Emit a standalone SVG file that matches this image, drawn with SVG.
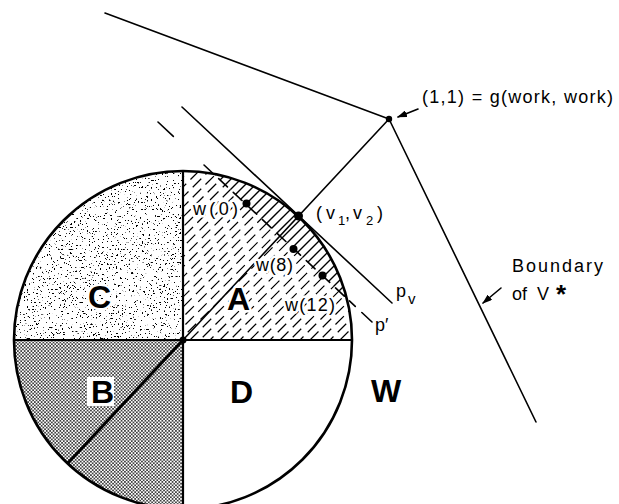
<svg xmlns="http://www.w3.org/2000/svg" xmlns:xlink="http://www.w3.org/1999/xlink" width="619" height="504" viewBox="0 0 619 504">
<style>
.ln{stroke:#000;stroke-width:1.6;fill:none;stroke-linecap:round}
.thick{stroke:#000;stroke-width:2.2;fill:none}
.lab{font-family:"Liberation Sans",Arial,sans-serif;font-size:18px;fill:#000}
.big{font-family:"Liberation Sans",Arial,sans-serif;font-size:32px;font-weight:bold;fill:#000}
.halo{paint-order:stroke;stroke:#fff;stroke-width:5;stroke-linejoin:round}
.dash{stroke:#000;stroke-width:1.2;fill:none;stroke-dasharray:12 6}
.solid{stroke:#000;stroke-width:1.4;fill:none}
</style>
<defs>
<marker id="ah" markerWidth="10" markerHeight="7" refX="9" refY="3.5" orient="auto" markerUnits="userSpaceOnUse">
<path d="M0,0 L10,3.5 L0,7 Z" fill="#000"/>
</marker>
<pattern id="dots" patternUnits="userSpaceOnUse" width="3.4" height="3.4">
<circle cx="0.85" cy="0.85" r="0.85" fill="#000"/>
<circle cx="2.55" cy="2.55" r="0.85" fill="#000"/>
</pattern>
<filter id="speck" x="0" y="0" width="1" height="1" color-interpolation-filters="sRGB">
<feTurbulence type="fractalNoise" baseFrequency="0.55" numOctaves="3" seed="7"/>
<feColorMatrix type="matrix" values="0 0 0 0 0  0 0 0 0 0  0 0 0 0 0  -24 0 0 0 8.2"/>
</filter>
<clipPath id="clipC"><path d="M183,340 L14,340 A169,169 0 0 1 183,171 Z"/></clipPath>
<clipPath id="clipA"><path d="M183,340 L352,340 A169,169 0 0 0 346.8,298.6 L213.4,173.8 A169,169 0 0 0 183,171 Z"/></clipPath>
<clipPath id="clipCap"><path d="M213.4,173.8 A169,169 0 0 1 346.8,298.6 Z"/></clipPath>
<path id="hl" d="M10,350 L200,160 M25,345 L210,160 M40,340 L220,160 M40,350 L230,160 M55,345 L240,160 M70,340 L250,160 M70,350 L260,160 M85,345 L270,160 M100,340 L280,160 M100,350 L290,160 M115,345 L300,160 M130,340 L310,160 M130,350 L320,160 M145,345 L330,160 M160,340 L340,160 M160,350 L350,160 M175,345 L360,160 M190,340 L370,160 M190,350 L380,160 M205,345 L390,160 M220,340 L400,160 M220,350 L410,160 M235,345 L420,160 M250,340 L430,160 M250,350 L440,160 M265,345 L450,160 M280,340 L460,160 M280,350 L470,160 M295,345 L480,160 M310,340 L490,160 M310,350 L500,160 M325,345 L510,160 M340,340 L520,160 M340,350 L530,160"/>
</defs>
<rect width="619" height="504" fill="#fff"/>

<g id="region-C">
<rect x="14" y="171" width="169" height="169" fill="#fff" filter="url(#speck)" clip-path="url(#clipC)"/>
</g>
<g id="region-B">
<path d="M183,340 L14,340 A169,169 0 0 0 183,509 Z" fill="url(#dots)"/>
<rect x="87" y="377" width="27" height="29" fill="#fff"/>
</g>
<g id="region-A">
<use xlink:href="#hl" href="#hl" class="dash" clip-path="url(#clipA)"/>
<use xlink:href="#hl" href="#hl" class="solid" clip-path="url(#clipCap)"/>
</g>
<g id="region-D"></g>

<g id="circle">
<circle cx="183" cy="340" r="169" fill="none" stroke="#000" stroke-width="2.6"/>
<line x1="183" y1="171" x2="183" y2="504" class="thick"/>
<line x1="14" y1="340" x2="352" y2="340" class="thick"/>
</g>

<g id="connectors">
<line x1="105" y1="13" x2="389" y2="119" class="ln"/>
<line x1="389" y1="119" x2="536" y2="422" class="ln"/>
<line x1="182" y1="107" x2="392" y2="303" class="ln"/>
<line x1="158" y1="122" x2="372" y2="322" class="ln" stroke-linecap="butt" stroke-dasharray="21 42 12 8 12 8 12 8 12 8 12 8 12 8 12 8 12 8 12 8 12 7 8 9 14"/>
<line x1="183" y1="340" x2="389" y2="119" class="ln"/>
<line x1="183" y1="340" x2="68" y2="463" stroke="#000" stroke-width="3"/>
<line x1="418" y1="109" x2="398" y2="117" class="ln" marker-end="url(#ah)"/>
<line x1="501" y1="288" x2="483" y2="303" class="ln" marker-end="url(#ah)"/>
</g>

<g id="points">
<circle cx="183" cy="340" r="3.5"/>
<circle cx="298.5" cy="216" r="4.5"/>
<circle cx="389" cy="119" r="3.2"/>
<circle cx="246.5" cy="203.5" r="4"/>
<circle cx="293.5" cy="249" r="4"/>
<circle cx="322.5" cy="275.5" r="4"/>
</g>

<g id="labels">
<text class="big halo" x="88" y="308" stroke-width="7">C</text>
<text class="big" x="91" y="403">B</text>
<text class="big halo" x="227" y="310">A</text>
<text class="big" x="230" y="403">D</text>
<text class="big" x="371" y="402">W</text>
<text class="lab halo" x="193" y="215" font-size="18" textLength="45" lengthAdjust="spacing" stroke-width="4">w(0)</text>
<text class="lab halo" x="256" y="271" textLength="37" lengthAdjust="spacing" stroke-width="4">w(8)</text>
<text class="lab halo" x="285" y="311" textLength="50" lengthAdjust="spacing" stroke-width="4">w(12)</text>
<text class="lab" font-size="19" y="219"><tspan x="316">(</tspan><tspan x="326">v</tspan><tspan x="338" y="225" font-size="13">1</tspan><tspan x="345" y="219">,</tspan><tspan x="353">v</tspan><tspan x="366" y="225" font-size="13">2</tspan><tspan x="377" y="219">)</tspan></text>
<text class="lab" font-size="20" y="297"><tspan x="396">p</tspan><tspan x="408" y="304" font-size="15">v</tspan></text>
<text class="lab" font-size="19" x="375" y="331">p′</text>
<text class="lab" font-size="20" x="422" y="103" textLength="191" lengthAdjust="spacing">(1,1) = g(work, work)</text>
<text class="lab" font-size="21" x="512" y="272" textLength="91" lengthAdjust="spacing">Boundary</text>
<text class="lab" font-size="21" y="300"><tspan x="512">of</tspan><tspan x="537">V</tspan><tspan x="556" y="303" font-size="26" font-weight="bold">*</tspan></text>
</g>
</svg>
